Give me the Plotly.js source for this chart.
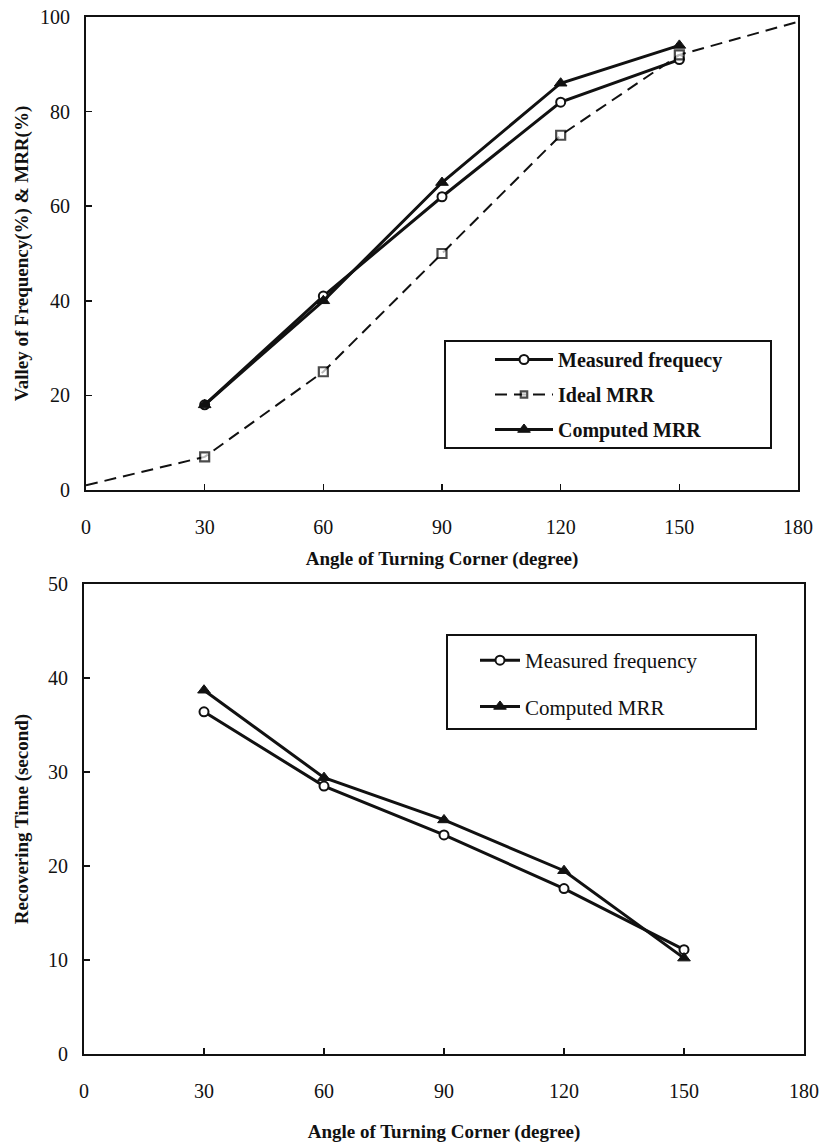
<!DOCTYPE html>
<html><head><meta charset="utf-8">
<script src="https://cdn.plot.ly/plotly-3.0.1.min.js"></script>
<style>html,body{margin:0;padding:0;background:#fff}#chart{width:819px;height:1143px}</style>
</head><body><div id="chart"></div>
<script>
// Data
const angles = [30, 60, 90, 120, 150];
const idealAngles = [0, 30, 60, 90, 120, 150, 180];
const measuredTop = [18, 41, 62, 82, 91];
const idealTop = [1, 7, 25, 50, 75, 92, 99];
const computedTop = [18, 40, 65, 86, 94];
const measuredBottom = [36.4, 28.5, 23.3, 17.6, 11.1];
const computedBottom = [38.7, 29.4, 24.9, 19.5, 10.2];
const xTicks = [0, 30, 60, 90, 120, 150, 180];
const topYTicks = [0, 20, 40, 60, 80, 100];
const bottomYTicks = [0, 10, 20, 30, 40, 50];
const topNames = ['Measured frequecy', 'Ideal MRR', 'Computed MRR'];
const bottomNames = ['Measured frequency', 'Computed MRR'];

const W = 819, H = 1143;
const px = v => v / W, py = v => 1 - v / H;
const FONT = '"Liberation Serif"';

const circ = {symbol: 'circle', size: 9, color: '#fff', line: {color: '#111', width: 2}};
const tri = {symbol: 'triangle-up', size: 11, color: '#111', line: {color: '#111', width: 1}};

const traces = [
  {x: angles, y: measuredTop, name: topNames[0], mode: 'lines+markers', xaxis: 'x', yaxis: 'y',
   line: {color: '#111', width: 3}, marker: circ, legend: 'legend', legendgroup: 'a'},
  {x: idealAngles, y: idealTop, name: topNames[1], mode: 'lines+markers', xaxis: 'x', yaxis: 'y',
   line: {color: '#111', width: 2, dash: '12px,7px'},
   marker: {symbol: 'square', size: idealAngles.map(a => (a === 0 || a === 180) ? 0 : 9), color: '#fff', line: {color: '#000', width: 2.2}},
   legend: 'legend', legendgroup: 'b'},
  {x: angles, y: computedTop, name: topNames[2], mode: 'lines+markers', xaxis: 'x', yaxis: 'y',
   line: {color: '#111', width: 3}, marker: tri, legend: 'legend', legendgroup: 'c'},
  {x: angles, y: measuredBottom, name: bottomNames[0], mode: 'lines+markers', xaxis: 'x2', yaxis: 'y2',
   line: {color: '#111', width: 3}, marker: circ, legend: 'legend2', legendgroup: 'd'},
  {x: angles, y: computedBottom, name: bottomNames[1], mode: 'lines+markers', xaxis: 'x2', yaxis: 'y2',
   line: {color: '#111', width: 3}, marker: tri, legend: 'legend2', legendgroup: 'e'}
];

const axBase = {
  showgrid: false, zeroline: false, showline: true, mirror: true, linecolor: '#111', linewidth: 2,
  ticks: 'inside', ticklen: 6, tickwidth: 1.5, tickcolor: '#111',
  tickfont: {family: FONT, size: 20, color: '#111'}, fixedrange: true
};
const titleFont = {family: FONT, size: 19, color: '#111', weight: 'bold'};

const layout = {
  width: W, height: H, margin: {l: 0, r: 0, t: 0, b: 0},
  font: {family: FONT},
  paper_bgcolor: '#fff', plot_bgcolor: '#fff', showlegend: true,
  xaxis: Object.assign({}, axBase, {domain: [px(86), px(798)], range: [0, 180], tickvals: xTicks,
    anchor: 'y', ticklabelstandoff: 18,
    title: {text: 'Angle of Turning Corner (degree)', font: titleFont, standoff: 15}}),
  yaxis: Object.assign({}, axBase, {domain: [py(490), py(17)], range: [0, 100], tickvals: topYTicks,
    anchor: 'x', ticklabelstandoff: 10,
    title: {text: 'Valley of Frequency(%) & MRR(%)', font: titleFont, standoff: 6}}),
  xaxis2: Object.assign({}, axBase, {domain: [px(84), px(804)], range: [0, 180], tickvals: xTicks,
    anchor: 'y2', ticklabelstandoff: 18,
    title: {text: 'Angle of Turning Corner (degree)', font: titleFont, standoff: 25}}),
  yaxis2: Object.assign({}, axBase, {domain: [py(1054), py(584)], range: [0, 50], tickvals: bottomYTicks,
    anchor: 'x2', ticklabelstandoff: 10,
    title: {text: 'Recovering Time (second)', font: titleFont, standoff: 14}}),
  legend: {x: px(490), y: py(340), xanchor: 'left', yanchor: 'top', bgcolor: 'rgba(0,0,0,0)',
    borderwidth: 0, font: {family: FONT, size: 20, color: '#111', weight: 'bold'},
    tracegroupgap: 6, itemwidth: 58, traceorder: 'grouped'},
  legend2: {x: px(475), y: py(640), xanchor: 'left', yanchor: 'top', bgcolor: 'rgba(0,0,0,0)',
    borderwidth: 0, font: {family: FONT, size: 21, color: '#111'},
    tracegroupgap: 16, itemwidth: 40, traceorder: 'grouped'},
  shapes: [
    {type: 'rect', xref: 'paper', yref: 'paper', x0: px(445), x1: px(771), y0: py(341), y1: py(448),
     line: {color: '#111', width: 2}, fillcolor: '#fff', layer: 'below'},
    {type: 'rect', xref: 'paper', yref: 'paper', x0: px(447), x1: px(756), y0: py(635), y1: py(729),
     line: {color: '#111', width: 2}, fillcolor: '#fff', layer: 'below'}
  ]
};

Plotly.newPlot('chart', traces, layout, {displayModeBar: false, staticPlot: true});
</script>
</body></html>
